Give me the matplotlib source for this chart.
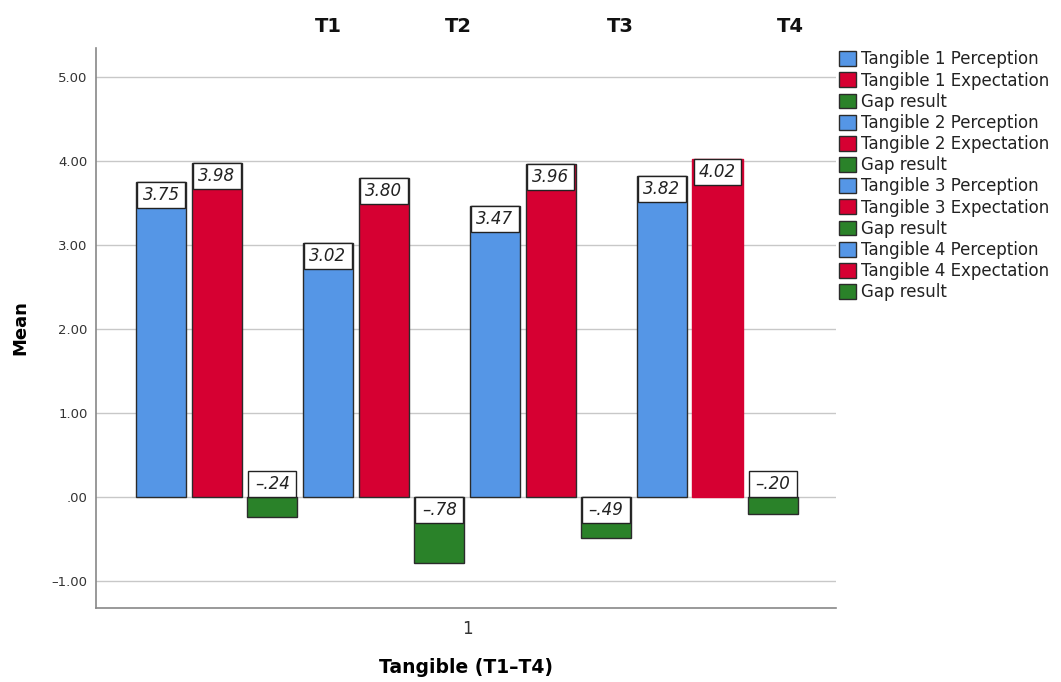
import matplotlib.pyplot as plt
from matplotlib.patches import Rectangle, Patch
from matplotlib.ticker import FuncFormatter

# Середні значення по кожному виміру Tangible
groups = ['T1', 'T2', 'T3', 'T4']
perception = [3.75, 3.02, 3.47, 3.82]
expectation = [3.98, 3.80, 3.96, 4.02]
gap = [-0.24, -0.78, -0.49, -0.20]

legend_labels = []
for i in range(1, 5):
    legend_labels += [f'Tangible {i} Perception', f'Tangible {i} Expectation', 'Gap result']

c_blue = '#5596e6'
c_red = '#d60032'
c_green = '#2a8229'

plt.rcParams['font.family'] = 'DejaVu Sans'


def spss_fmt(v):
    # SPSS-стиль: без нуля перед крапкою, мінус як тире
    s = f'{abs(v):.2f}'
    if abs(v) < 1:
        s = s[1:]
    return ('\u2013' if v < 0 else '') + s


fig = plt.figure(figsize=(10.61, 6.82), dpi=100)
ax = fig.add_axes([96 / 1061, 1 - 608 / 682, 740 / 1061, 560 / 682])

values, colors, edges = [], [], []
for p, e, g in zip(perception, expectation, gap):
    values += [p, e, g]
    colors += [c_blue, c_red, c_green]
    edges += ['#2b2b2b', '#2b2b2b', '#2b2b2b']
edges[10] = c_red

xs = list(range(len(values)))
ax.bar(xs, values, width=0.9, color=colors, edgecolor=edges, linewidth=1.0, zorder=3)

# Підписи значень у білих рамках
box_w, box_h = 0.86, 0.31
for x, v in zip(xs, values):
    if v >= 0:
        y0 = v - box_h
    elif -v > box_h:
        y0 = -box_h
    else:
        y0 = 0
    ax.add_patch(Rectangle((x - box_w / 2, y0), box_w, box_h, facecolor='white',
                           edgecolor='#222222', linewidth=1.0, zorder=4))
    ax.text(x, y0 + box_h / 2, spss_fmt(v), ha='center', va='center',
            fontsize=12, style='italic', color='#222222', zorder=5)

ax.set_xlim(-1.17, 12.13)
ax.set_ylim(-1.32, 5.345)
ax.set_yticks([-1, 0, 1, 2, 3, 4, 5])
ax.yaxis.set_major_formatter(FuncFormatter(lambda v, pos: spss_fmt(v)))
ax.set_xticks([5.5])
ax.set_xticklabels(['1'])
ax.tick_params(axis='y', length=0, labelsize=9.5, colors='#333333', pad=6)
ax.tick_params(axis='x', length=0, labelsize=12, colors='#333333', pad=9)
ax.grid(axis='y', color='#c8c8c8', linewidth=1.0, zorder=0)
for s in ['top', 'right']:
    ax.spines[s].set_visible(False)
for s in ['left', 'bottom']:
    ax.spines[s].set_color('#888888')
    ax.spines[s].set_linewidth(1.2)

ax.set_ylabel('Mean', fontsize=13, fontweight='bold', labelpad=16)
ax.set_xlabel('Tangible (T1\u2013T4)', fontsize=13.5, fontweight='bold', labelpad=14)

# Заголовки груп над графіком
for name, px in zip(groups, [328, 458, 620, 790]):
    fig.text(px / 1061, 1 - 26 / 682, name, ha='center', va='center',
             fontsize=14, fontweight='bold', color='#111111')

handles = [Patch(facecolor=c, edgecolor='#2b2b2b', linewidth=1.0) for c in colors]
fig.legend(handles, legend_labels, loc='upper left', bbox_to_anchor=(836 / 1061, 1 - 47 / 682),
           frameon=False, fontsize=12, handlelength=1.0, handleheight=1.0,
           handletextpad=0.3, labelspacing=0.19, borderaxespad=0, borderpad=0.2,
           labelcolor='#222222')

fig.savefig('out.png', dpi=100)
